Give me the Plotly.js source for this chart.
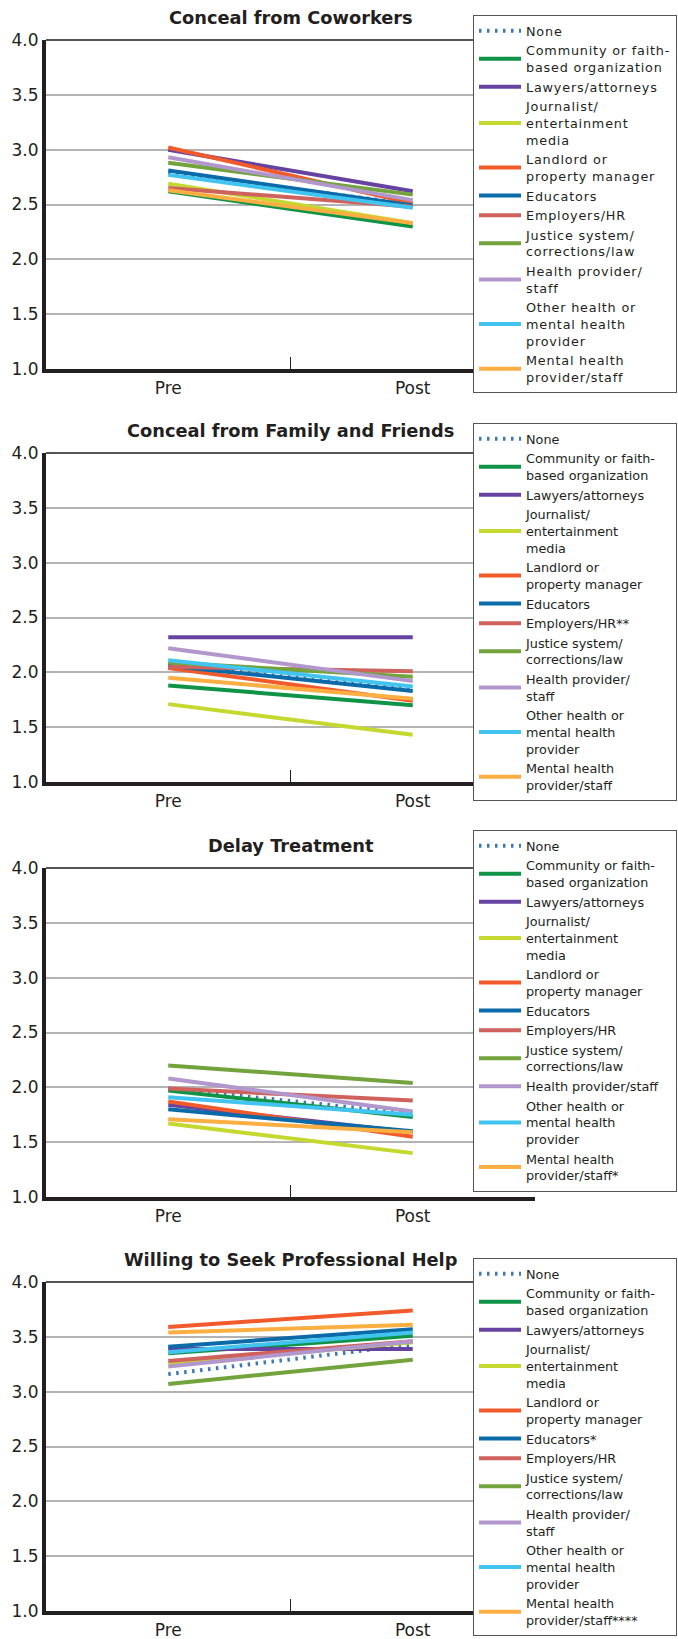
<!DOCTYPE html>
<html>
<head>
<meta charset="utf-8">
<script src="https://cdn.plot.ly/plotly-3.0.1.min.js"></script>
<style>html,body{margin:0;padding:0;background:#fff;}#chart{width:678px;height:1639px;}
.legendtext{letter-spacing:0.8px;}</style>
</head>
<body>
<div id="chart"></div>
<script>
// ---- Data ----
const categories = ['Pre', 'Post'];
const panelTitles = ['Conceal from Coworkers', 'Conceal from Family and Friends', 'Delay Treatment', 'Willing to Seek Professional Help'];

// series order: None, Community, Lawyers, Journalist, Landlord, Educators, Employers, Justice, Health, Other, Mental
const namesCoworkers = ['None', 'Community or faith-<br>based organization', 'Lawyers/attorneys', 'Journalist/<br>entertainment<br>media', 'Landlord or<br>property manager', 'Educators', 'Employers/HR', 'Justice system/<br>corrections/law', 'Health provider/<br>staff', 'Other health or<br>mental health<br>provider', 'Mental health<br>provider/staff'];
const namesFamily = ['None', 'Community or faith-<br>based organization', 'Lawyers/attorneys', 'Journalist/<br>entertainment<br>media', 'Landlord or<br>property manager', 'Educators', 'Employers/HR**', 'Justice system/<br>corrections/law', 'Health provider/<br>staff', 'Other health or<br>mental health<br>provider', 'Mental health<br>provider/staff'];
const namesDelay = ['None', 'Community or faith-<br>based organization', 'Lawyers/attorneys', 'Journalist/<br>entertainment<br>media', 'Landlord or<br>property manager', 'Educators', 'Employers/HR', 'Justice system/<br>corrections/law', 'Health provider/staff', 'Other health or<br>mental health<br>provider', 'Mental health<br>provider/staff*'];
const namesHelp = ['None', 'Community or faith-<br>based organization', 'Lawyers/attorneys', 'Journalist/<br>entertainment<br>media', 'Landlord or<br>property manager', 'Educators*', 'Employers/HR', 'Justice system/<br>corrections/law', 'Health provider/<br>staff', 'Other health or<br>mental health<br>provider', 'Mental health<br>provider/staff****'];

const coworkersPre  = [2.79, 2.62, 3.00, 2.69, 3.02, 2.81, 2.65, 2.88, 2.93, 2.77, 2.63];
const coworkersPost = [2.50, 2.30, 2.62, 2.33, 2.51, 2.49, 2.48, 2.59, 2.54, 2.47, 2.33];
const familyPre     = [2.07, 1.88, 2.32, 1.71, 2.04, 2.06, 2.05, 2.09, 2.22, 2.11, 1.95];
const familyPost    = [1.84, 1.70, 2.32, 1.43, 1.74, 1.83, 2.01, 1.96, 1.92, 1.87, 1.76];
const delayPre      = [1.99, 1.97, 1.84, 1.67, 1.87, 1.80, 1.99, 2.20, 2.08, 1.91, 1.71];
const delayPost     = [1.76, 1.73, 1.59, 1.40, 1.55, 1.60, 1.88, 2.04, 1.78, 1.75, 1.59];
const helpPre       = [3.16, 3.35, 3.39, 3.25, 3.59, 3.41, 3.28, 3.07, 3.23, 3.36, 3.54];
const helpPost      = [3.43, 3.51, 3.39, 3.45, 3.74, 3.57, 3.46, 3.29, 3.46, 3.54, 3.61];

const yTickVals = [1.0, 1.5, 2.0, 2.5, 3.0, 3.5, 4.0];

// ---- Styles ----
const colors = ['#3f78b5', '#0f9447', '#6643a0', '#c5d82f', '#f15a2b', '#0b6aa8', '#d0625e', '#72a33c', '#b197cc', '#41c4ef', '#fbae42'];
const FONT = '"DejaVu Sans", "Open Sans", sans-serif';
const TXT = '#231f20';

const panels = [
  {names: namesCoworkers, pre: coworkersPre, post: coworkersPost},
  {names: namesFamily, pre: familyPre, post: familyPost},
  {names: namesDelay, pre: delayPre, post: delayPost},
  {names: namesHelp, pre: helpPre, post: helpPost}
];

const H = 1639, W = 678;
const plotTops = [40, 453, 868, 1282];
const plotH = 329;
const legendTops = [15, 423, 830, 1258];
const xLeft = 46, xRight = 535;

const traces = [];
const layout = {
  width: W, height: H,
  margin: {l: 0, r: 0, t: 0, b: 0, autoexpand: false},
  paper_bgcolor: '#fff', plot_bgcolor: '#fff',
  showlegend: true,
  font: {family: FONT, color: TXT},
  annotations: [],
  shapes: []
};

panels.forEach((p, i) => {
  const n = i + 1;
  const xa = 'x' + (n === 1 ? '' : n), ya = 'y' + (n === 1 ? '' : n);
  const lg = 'legend' + (n === 1 ? '' : n);
  p.names.forEach((nm, k) => {
    traces.push({
      type: 'scatter', mode: 'lines',
      x: categories, y: [p.pre[k], p.post[k]],
      name: nm, xaxis: xa, yaxis: ya, legend: lg,
      line: {color: colors[k], width: 4, dash: k === 0 ? '2.5px,5.5px' : 'solid'},
      hoverinfo: 'name+y'
    });
  });
  const top = plotTops[i], bot = top + plotH;
  layout['xaxis' + (n === 1 ? '' : n)] = {
    domain: [xLeft / W, xRight / W],
    anchor: ya, type: 'category', range: [-0.5, 1.5],
    showline: true, linewidth: 4, linecolor: TXT,
    ticks: 'inside', tickson: 'boundaries', ticklen: 12, tickwidth: 1, tickcolor: TXT,
    showgrid: false, zeroline: false,
    ticklabelstandoff: 1,
    tickfont: {family: FONT, size: 17, color: TXT},
    fixedrange: true
  };
  layout['yaxis' + (n === 1 ? '' : n)] = {
    domain: [1 - bot / H, 1 - top / H],
    anchor: xa, range: [1, 4],
    tickvals: yTickVals, tickformat: '.1f',
    showline: true, linewidth: 4, linecolor: TXT,
    showgrid: true, gridcolor: '#b3b3b3', gridwidth: 1.5,
    zeroline: false, ticks: '',
    tickfont: {family: FONT, size: 17, color: TXT},
    fixedrange: true
  };
  layout[lg] = {
    x: 473 / W, xanchor: 'left', y: 1 - legendTops[i] / H, yanchor: 'top',
    bgcolor: '#fff', bordercolor: '#555', borderwidth: 1,
    font: {family: FONT, size: 12.8, color: TXT},
    itemwidth: 42,
    tracegroupgap: 0, itemclick: false, itemdoubleclick: false
  };
  layout.annotations.push({
    text: '<b>' + panelTitles[i] + '</b>', showarrow: false,
    xref: xa + ' domain', yref: ya + ' domain', x: 0.5, y: 1,
    xanchor: 'center', yanchor: 'middle', yshift: 23,
    font: {family: FONT, size: 17.8, color: TXT}
  });
  layout.shapes.push({
    type: 'line', xref: xa + ' domain', yref: ya + ' domain',
    x0: 0, x1: 1, y0: 1, y1: 1, line: {color: '#555', width: 2}, layer: 'below'
  });
});

Plotly.newPlot('chart', traces, layout, {displayModeBar: false});
</script>
</body>
</html>
